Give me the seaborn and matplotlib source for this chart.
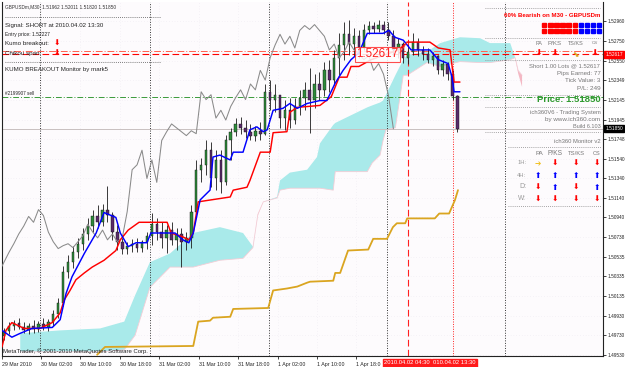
import matplotlib
matplotlib.use("Agg")
import matplotlib.pyplot as plt
import seaborn as sns
import numpy as np
from matplotlib.lines import Line2D
from matplotlib.patches import Rectangle

sns.set_theme(style="white")
FAM = ['Liberation Sans', 'DejaVu Sans']
plt.rcParams['font.family'] = FAM

# ---------------- data ----------------
y_tick_values = [1.52960, 1.52750, 1.52550, 1.52349, 1.52145, 1.51945, 1.51748, 1.51540,
                 1.51340, 1.51140, 1.50940, 1.50738, 1.50535, 1.50335, 1.50135, 1.49930,
                 1.49730, 1.49530]
# hours since 29 Mar 2010 00:00
x_tick_hours = [18.1, 26, 34, 42, 50, 58, 66, 74, 82, 90]
x_tick_labels = ['29 Mar 2010', '30 Mar 02:00', '30 Mar 10:00', '30 Mar 18:00', '31 Mar 02:00',
                 '31 Mar 10:00', '31 Mar 18:00', '1 Apr 02:00', '1 Apr 10:00', '1 Apr 18:0']
day_separators = [25.8, 48.2, 72.2, 96.2, 120.2]
signal_times = [100.5, 109.5]

candle_start = 18.5  # hourly candles
opens = [1.4972, 1.4977, 1.4982, 1.4986, 1.4981, 1.4978, 1.4982, 1.4979, 1.4985, 1.4981,
         1.4987, 1.4995, 1.5006, 1.5038, 1.5048, 1.5058, 1.5067, 1.5077, 1.5085, 1.5095,
         1.5089, 1.5102, 1.5096, 1.5079, 1.5069, 1.5062, 1.5065, 1.5067, 1.5063, 1.5069,
         1.5075, 1.5087, 1.5079, 1.5073, 1.5081, 1.5071, 1.5077, 1.5069, 1.5073, 1.5100,
         1.5143, 1.5148, 1.5163, 1.5134, 1.5153, 1.5130, 1.5173, 1.5182, 1.5190, 1.5186,
         1.5182, 1.5178, 1.5183, 1.5180, 1.5223, 1.5215, 1.5220, 1.5196, 1.5204, 1.5194,
         1.5208, 1.5217, 1.5225, 1.5215, 1.5231, 1.5225, 1.5245, 1.5235, 1.5258, 1.5271,
         1.5282, 1.5272, 1.5280, 1.5268, 1.5286, 1.5291, 1.5287, 1.5292, 1.5286, 1.5280,
         1.5266, 1.5272, 1.5258, 1.5264, 1.5274, 1.5266, 1.5262, 1.5256, 1.5260, 1.5245,
         1.5252, 1.5241, 1.5219]
highs = [1.4980, 1.4987, 1.4989, 1.4991, 1.4987, 1.4986, 1.4989, 1.4988, 1.4991, 1.4990,
         1.4999, 1.5011, 1.5044, 1.5055, 1.5065, 1.5073, 1.5083, 1.5093, 1.5102, 1.5107,
         1.5108, 1.5126, 1.5100, 1.5086, 1.5073, 1.5069, 1.5072, 1.5073, 1.5071, 1.5079,
         1.5099, 1.5093, 1.5089, 1.5086, 1.5089, 1.5083, 1.5083, 1.5079, 1.5107, 1.5153,
         1.5155, 1.5173, 1.5171, 1.5163, 1.5163, 1.5179, 1.5186, 1.5196, 1.5197, 1.5194,
         1.5190, 1.5188, 1.5192, 1.5231, 1.5235, 1.5231, 1.5220, 1.5215, 1.5217, 1.5217,
         1.5225, 1.5233, 1.5247, 1.5241, 1.5243, 1.5254, 1.5256, 1.5266, 1.5283, 1.5295,
         1.5297, 1.5288, 1.5286, 1.5293, 1.5296, 1.5295, 1.5297, 1.5296, 1.5295, 1.5286,
         1.5278, 1.5274, 1.5271, 1.5283, 1.5278, 1.5270, 1.5268, 1.5264, 1.5261, 1.5256,
         1.5254, 1.5245, 1.5220]
lows = [1.4968, 1.4974, 1.4978, 1.4979, 1.4975, 1.4974, 1.4975, 1.4976, 1.4978, 1.4977,
        1.4983, 1.4991, 1.5003, 1.5032, 1.5042, 1.5052, 1.5061, 1.5071, 1.5079, 1.5083,
        1.5085, 1.5089, 1.5071, 1.5061, 1.5056, 1.5056, 1.5058, 1.5059, 1.5058, 1.5062,
        1.5066, 1.5071, 1.5063, 1.5057, 1.5066, 1.5061, 1.5043, 1.5061, 1.5063, 1.5097,
        1.5130, 1.5138, 1.5125, 1.5122, 1.5119, 1.5127, 1.5153, 1.5178, 1.5180, 1.5176,
        1.5173, 1.5172, 1.5173, 1.5179, 1.5204, 1.5202, 1.5186, 1.5184, 1.5186, 1.5190,
        1.5199, 1.5204, 1.5181, 1.5206, 1.5215, 1.5219, 1.5223, 1.5230, 1.5240, 1.5256,
        1.5261, 1.5260, 1.5258, 1.5266, 1.5282, 1.5283, 1.5284, 1.5282, 1.5276, 1.5261,
        1.5258, 1.5253, 1.5252, 1.5261, 1.5260, 1.5256, 1.5253, 1.5249, 1.5241, 1.5239,
        1.5235, 1.5215, 1.5182]
closes = [1.4977, 1.4982, 1.4986, 1.4981, 1.4978, 1.4982, 1.4979, 1.4985, 1.4981, 1.4987,
          1.4995, 1.5006, 1.5038, 1.5048, 1.5058, 1.5067, 1.5077, 1.5085, 1.5095, 1.5089,
          1.5102, 1.5096, 1.5079, 1.5069, 1.5062, 1.5065, 1.5067, 1.5063, 1.5069, 1.5075,
          1.5087, 1.5079, 1.5073, 1.5081, 1.5071, 1.5077, 1.5069, 1.5073, 1.5100, 1.5143,
          1.5148, 1.5163, 1.5134, 1.5153, 1.5130, 1.5173, 1.5182, 1.5190, 1.5186, 1.5182,
          1.5178, 1.5183, 1.5180, 1.5223, 1.5215, 1.5220, 1.5196, 1.5204, 1.5194, 1.5208,
          1.5217, 1.5225, 1.5215, 1.5231, 1.5225, 1.5245, 1.5235, 1.5258, 1.5271, 1.5282,
          1.5272, 1.5280, 1.5268, 1.5286, 1.5291, 1.5287, 1.5292, 1.5286, 1.5280, 1.5266,
          1.5272, 1.5258, 1.5264, 1.5274, 1.5266, 1.5262, 1.5256, 1.5260, 1.5245, 1.5252,
          1.5241, 1.5219, 1.5185]
chikou_shift_hours = 13

tenkan_t = [18.1, 20.1, 21.8, 24.2, 28.3, 29.9, 31.1, 32.3, 34.8, 37.2, 38.8, 41.2, 42.1, 43.7,
            45.3, 47.5, 48.3, 53.2, 54.8, 56.0, 56.9, 58.3, 60.3, 60.9, 62.3, 64.4, 65.0, 67.0,
            68.4, 69.8, 71.1, 71.9, 72.5, 73.1, 75.1, 76.5, 78.0, 80.0, 82.6, 84.0, 85.7, 87.3,
            88.9, 90.5, 92.2, 95.4, 96.6, 97.8, 99.5, 101.1, 104.9, 106.6, 108.6, 109.4, 109.8, 111.0]
tenkan_p = [1.4978, 1.4971, 1.4975, 1.4980, 1.4981, 1.4989, 1.5016, 1.5033, 1.5057, 1.5078,
            1.5099, 1.5094, 1.5078, 1.5064, 1.5068, 1.5068, 1.5078, 1.5078, 1.5071, 1.5068,
            1.5078, 1.5112, 1.5122, 1.5156, 1.5158, 1.5153, 1.5161, 1.5161, 1.5184, 1.5187,
            1.5182, 1.5184, 1.5194, 1.5204, 1.5206, 1.5211, 1.5206, 1.5211, 1.5214, 1.5214,
            1.5232, 1.5245, 1.5256, 1.5263, 1.5283, 1.5283, 1.5286, 1.5279, 1.5276, 1.5266,
            1.5266, 1.5256, 1.5252, 1.5238, 1.5223, 1.5223]

kijun_t = [18.1, 18.9, 20.1, 22.6, 25.8, 28.3, 29.9, 30.7, 31.9, 33.1, 34.8, 36.4, 38.8, 41.2,
           42.1, 43.7, 45.9, 51.6, 52.4, 54.8, 56.0, 56.9, 57.9, 64.4, 65.0, 67.8, 68.4, 70.5,
           72.5, 73.1, 75.9, 76.5, 78.0, 82.6, 84.9, 86.5, 88.1, 88.9, 90.5, 93.0, 98.6, 100.3,
           104.9, 106.6, 109.0, 109.8, 111.0]
kijun_p = [1.4961, 1.4978, 1.4986, 1.4980, 1.4980, 1.4986, 1.4996, 1.5009, 1.5019, 1.5030,
           1.5037, 1.5043, 1.5050, 1.5060, 1.5071, 1.5081, 1.5089, 1.5089, 1.5078, 1.5074,
           1.5071, 1.5078, 1.5110, 1.5115, 1.5122, 1.5125, 1.5132, 1.5161, 1.5161, 1.5181,
           1.5182, 1.5202, 1.5207, 1.5209, 1.5218, 1.5238, 1.5238, 1.5249, 1.5249, 1.5256,
           1.5266, 1.5274, 1.5274, 1.5268, 1.5266, 1.5233, 1.5233]

stop_t = [37.4, 39.0, 56.9, 57.9, 60.3, 60.9, 64.4, 65.0, 72.1, 73.1, 75.9, 78.0, 80.0, 80.6,
          85.3, 85.7, 86.7, 88.3, 92.4, 93.4, 96.2, 97.4, 98.2, 99.9, 100.3, 105.9, 106.8,
          108.8, 109.4, 110.0, 110.6]
stop_p = [1.4953, 1.4961, 1.4962, 1.4987, 1.4988, 1.4991, 1.4992, 1.5000, 1.5001, 1.5019,
          1.5021, 1.5023, 1.5027, 1.5028, 1.5029, 1.5037, 1.5037, 1.5060, 1.5061, 1.5072,
          1.5072, 1.5084, 1.5088, 1.5088, 1.5093, 1.5093, 1.5098, 1.5098, 1.5105, 1.5112, 1.5122]

kumo_t = [21.8, 29.9, 38.0, 42.9, 45.1, 48.1, 52.2, 56.9, 62.3, 67.0, 69.0, 70.0, 71.1, 73.9,
          74.5, 76.5, 80.0, 82.0, 82.6, 85.3, 85.7, 92.2, 93.2, 94.8, 95.4, 96.0, 97.9, 99.5,
          100.3, 104.3, 107.0, 111.0, 115.1, 117.1, 121.2, 122.2, 122.8, 123.6]
span_a = [1.4975, 1.4978, 1.4980, 1.4987, 1.5014, 1.5048, 1.5057, 1.5078, 1.5084, 1.5078,
          1.5064, 1.5096, 1.5110, 1.5115, 1.5132, 1.5140, 1.5143, 1.5156, 1.5170, 1.5189,
          1.5191, 1.5207, 1.5209, 1.5212, 1.5214, 1.5220, 1.5240, 1.5256, 1.5261, 1.5264,
          1.5273, 1.5279, 1.5278, 1.5273, 1.5273, 1.5258, 1.5242, 1.5228]
span_b = [1.4956, 1.4956, 1.4956, 1.4958, 1.4973, 1.5022, 1.5043, 1.5043, 1.5050, 1.5052,
          1.5063, 1.5097, 1.5110, 1.5114, 1.5122, 1.5124, 1.5124, 1.5124, 1.5124, 1.5122,
          1.5141, 1.5141, 1.5150, 1.5158, 1.5173, 1.5184, 1.5186, 1.5240, 1.5240, 1.5253,
          1.5249, 1.5254, 1.5253, 1.5253, 1.5256, 1.5258, 1.5245, 1.5240]

order_price = 1.52617
order_line2 = 1.52644
sell_line = 1.52176
bid_price = 1.51850

bear_squares = 6
total_squares = 10
panel_cols = ['PA', 'P/KS', 'TS/KS', 'CS']
tf_rows = ['1H:', '4H:', 'D:', 'W:']
tf_signals = [['right', 'down', 'down', 'down'],
              ['up', 'up', 'up', 'up'],
              ['down', 'up', 'down', 'up'],
              ['down', 'down', 'down', 'down']]
top_signals = ['down', 'down', 'diag', 'down']

# ---------------- figure ----------------
W, H = 625, 367
L, R_, T, B = 2, 603, 2, 356
fig = plt.figure(figsize=(W / 100, H / 100), dpi=100)
fig.patch.set_facecolor('white')
ax = fig.add_axes([L / W, 1 - B / H, (R_ - L) / W, (B - T) / H])
ax.set_facecolor('#fdfbfd')
ax.set_xlim(18.12, 140.02)
ax.set_ylim(1.49517, 1.53152)
REN = fig.canvas.get_renderer()


def fx(x):
    return x / W


def fy(y):
    return 1 - y / H


def fit_text(x0, x1, y, s, color='#333333', weight='normal', size0=6.0, family=FAM, z=20):
    t = fig.text(fx(x0), fy(y), s, ha='left', va='center', fontsize=size0, color=color,
                 weight=weight, family=family, zorder=z)
    bb = t.get_window_extent(renderer=REN)
    if bb.width > 0:
        t.set_fontsize(size0 * (x1 - x0) / bb.width)
    return t


def hline_px(x0, x1, y, color='#555555', ls=(0, (1, 1.5)), lw=0.6):
    fig.add_artist(Line2D([fx(x0), fx(x1)], [fy(y), fy(y)], transform=fig.transFigure,
                          color=color, ls=ls, lw=lw, zorder=15))


# grid
for v in y_tick_values:
    ax.axhline(v, color='#e6e0ea', lw=0.4, ls=(0, (1, 4)), zorder=0)
for v in x_tick_hours[1:]:
    ax.axvline(v, color='#e6e0ea', lw=0.4, ls=(0, (1, 4)), zorder=0)

# kumo
kt = np.array(kumo_t)
sa = np.array(span_a)
sb = np.array(span_b)
ax.fill_between(kt, sa, sb, where=sa >= sb, interpolate=True, color='#a9eaea', lw=0, zorder=1)
ax.fill_between(kt, sa, sb, where=sa < sb, interpolate=True, color='#f4b8c4', lw=0, zorder=1)
sns.lineplot(x=kt, y=sb, ax=ax, color='#f3cdd6', lw=0.6, estimator=None, sort=False, zorder=1)

# separators
for v in day_separators:
    ax.axvline(v, color='#333333', lw=0.7, ls=(0, (1, 1.6)), zorder=2)
ax.axvline(signal_times[0], color='#ff2020', lw=0.8, ls=(0, (6, 3)), zorder=2)
ax.axvline(signal_times[1], color='#ff2020', lw=0.7, ls=(0, (1, 1.5)), zorder=2)

# horizontal levels
ax.axhline(order_line2, color='#ff6050', lw=0.7, ls=(0, (7, 2, 1, 2)), zorder=2)
ax.axhline(order_price, color='#ff0000', lw=0.8, ls=(0, (6, 3)), zorder=2)
ax.axhline(sell_line, color='#3a9a3a', lw=0.7, ls=(0, (6, 2, 1, 2)), zorder=2)
ax.axhline(bid_price, color='#c8c0c0', lw=0.7, zorder=2)

# candles
o = np.array(opens)
hi = np.array(highs)
lo = np.array(lows)
c = np.array(closes)
tt = candle_start + np.arange(len(c))
ax.vlines(tt, lo, hi, color='#1a1a1a', lw=0.6, zorder=3)
up = c >= o
ax.bar(tt[up], (c - o)[up], bottom=o[up], width=0.5, color='#2e8b3a', edgecolor='#111111',
       linewidth=0.3, zorder=4)
ax.bar(tt[~up], (o - c)[~up], bottom=c[~up], width=0.5, color='#5a2a6a', edgecolor='#111111',
       linewidth=0.3, zorder=4)

# lines
sns.lineplot(x=tt - chikou_shift_hours, y=c, ax=ax, color='#8a8a8a', lw=0.75, estimator=None,
             sort=False, zorder=5)
sns.lineplot(x=stop_t, y=stop_p, ax=ax, color='#daa520', lw=1.3, estimator=None, sort=False, zorder=5)
sns.lineplot(x=kijun_t, y=kijun_p, ax=ax, color='#ff0000', lw=1.05, estimator=None, sort=False, zorder=6)
sns.lineplot(x=tenkan_t, y=tenkan_p, ax=ax, color='#0000ff', lw=1.05, estimator=None, sort=False, zorder=6)

# in-chart order label
ax.text(94.2, order_price, '1.52617', color='#ff2020', fontsize=8.4, ha='center', va='center',
        zorder=8, bbox=dict(boxstyle='square,pad=0.12', fc='white', ec='#ff3030', lw=0.8, alpha=0.85))
fig.add_artist(Line2D([fx(400), fx(407)], [fy(53), fy(42)], transform=fig.transFigure,
                      color='#ff3030', lw=0.7, zorder=9))

# axes styling
ax.spines['top'].set_visible(False)
for side in ['left', 'bottom', 'right']:
    ax.spines[side].set_color('#222222')
    ax.spines[side].set_linewidth(0.8)
ax.yaxis.tick_right()
ax.set_yticks(y_tick_values)
ax.set_yticklabels([f'{v:.5f}' for v in y_tick_values])
ax.tick_params(axis='y', labelsize=3.45, length=2.5, width=0.6, pad=1.0, colors='#222222',
               right=True, left=False)
ax.set_xticks(x_tick_hours)
ax.set_xticklabels(x_tick_labels)
ax.tick_params(axis='x', labelsize=3.8, length=2.5, width=0.6, pad=1.5, colors='#222222', bottom=True)
for lbl in ax.get_xticklabels():
    lbl.set_ha('left')
ax.set_xlabel('')
ax.set_ylabel('')

# price boxes on the axis
for price, txt, bg in [(order_price, '1.52617', '#ff0000'), (bid_price, '1.51850', '#000000')]:
    ax.text(1.0035, price, txt, transform=ax.get_yaxis_transform(), ha='left', va='center',
            fontsize=3.45, color='white', zorder=30, clip_on=False,
            bbox=dict(boxstyle='square,pad=0.2', fc=bg, ec=bg))

# time boxes below axis
fit_text(433, 476, 363, '010.04.02 13:30', color='white', z=30).set_bbox(
    dict(boxstyle='square,pad=0.2', fc='#ff1a1a', ec='#ff1a1a'))
fit_text(384, 431, 363, '2010.04.02 04:30', color='white', z=31).set_bbox(
    dict(boxstyle='square,pad=0.2', fc='#ff1a1a', ec='#ff1a1a'))

# ---------- upper-left info ----------
fit_text(5, 115, 6.5, 'GBPUSDm,M30  1.51962 1.52011 1.51820 1.51850', color='#333333')
hline_px(5, 160, 17.3)
fit_text(5, 105, 26, 'Signal: SHORT at 2010.04.02 13:30', color='#222222')
fit_text(5, 51, 34.5, 'Entry price: 1.52227', color='#222222')
fit_text(5, 50, 43.5, 'Kumo breakout:', color='#222222')
fit_text(5, 42, 53.5, 'Chikou span:', color='#222222')
for yy in [43.5, 53.3]:
    fig.text(fx(57), fy(yy), '\u2b07', color='#ff0000', fontsize=5.5, ha='center', va='center',
             family=['DejaVu Sans'], zorder=20)
hline_px(5, 160, 62.3)
fit_text(5, 109, 70, 'KUMO BREAKOUT Monitor by mark5', color='#222222')
fit_text(5, 34, 93, '#2199907 sell', color='#222222')
fit_text(3, 150, 351, 'MetaTrader, \u00a9 2001-2010 MetaQuotes Software Corp.', color='#222222')

# ---------- right panel ----------
for yy in [8.3, 38.3, 60, 95, 106.7, 132.3]:
    hline_px(485, 600, yy, color='#888888')
for yy in [147.3, 206]:
    hline_px(508, 600.7, yy, color='#888888')
fit_text(504, 601, 15.3, '60% Bearish on M30 - GBPUSDm', color='#ff0000', weight='bold')
for row_y in [25, 31]:
    for i in range(total_squares):
        col = '#ff0000' if i < bear_squares else '#0000ff'
        fig.add_artist(Rectangle((fx(542 + i * 6.1), fy(row_y + 2.2)), 4.4 / W, 4.4 / H,
                                 transform=fig.transFigure, color=col, zorder=20))

arrow_glyph = {'down': '\u2b07', 'up': '\u2b06', 'right': '\u2794', 'diag': '\u2b0a'}
arrow_color = {'down': '#ff0000', 'up': '#0000ff', 'right': '#f0c020', 'diag': '#daa520'}

hdr_x = [(535, 542), (548, 562), (568, 584), (592, 598)]
for (x0, x1), s in zip(hdr_x, panel_cols):
    fit_text(x0, x1, 43.5, s, color='#777777')
top_ax = [539, 555, 576, 595]
for xx, sig in zip(top_ax, top_signals):
    fig.text(fx(xx), fy(53.3), arrow_glyph[sig], color=arrow_color[sig], fontsize=5.5, ha='center',
             va='center', family=['DejaVu Sans'], zorder=20)

fit_text(529, 601, 66, 'Short 1.00 Lots @ 1.52617', color='#777777')
fit_text(557, 601, 73.5, 'Pips Earned: 77', color='#777777')
fit_text(565, 601, 80.5, 'Tick Value: 3', color='#777777')
fit_text(577, 601, 88, 'P/L: 249', color='#777777')
fit_text(537, 601, 100, 'Price: 1.51850', color='#2e9a2e', weight='bold')
fit_text(530, 601, 112, 'ich360V6 - Trading System', color='#777777')
fit_text(545, 601, 119, 'by www.ich360.com', color='#777777')
fit_text(573, 601, 127, 'Build 6.103', color='#777777')

fit_text(554, 600.7, 142, 'ich360 Monitor v2', color='#777777')
hdr2_x = [(535, 543), (548, 563), (568, 585), (593, 600.7)]
for (x0, x1), s in zip(hdr2_x, panel_cols):
    fit_text(x0, x1, 153, s, color='#777777')
row_y = [163, 175.5, 187, 199]
row_lbl_x = [(517, 526), (517, 526), (519, 526), (518, 526)]
col_x = [538, 555, 576, 597]
for (x0, x1), yy, lbl, sigs in zip(row_lbl_x, row_y, tf_rows, tf_signals):
    fit_text(x0, x1, yy, lbl, color='#999999')
    for xx, sig in zip(col_x, sigs):
        fig.text(fx(xx), fy(yy), arrow_glyph[sig], color=arrow_color[sig], fontsize=5.5,
                 ha='center', va='center', family=['DejaVu Sans'], zorder=20)

fig.savefig('out.png', dpi=100, facecolor='white')
